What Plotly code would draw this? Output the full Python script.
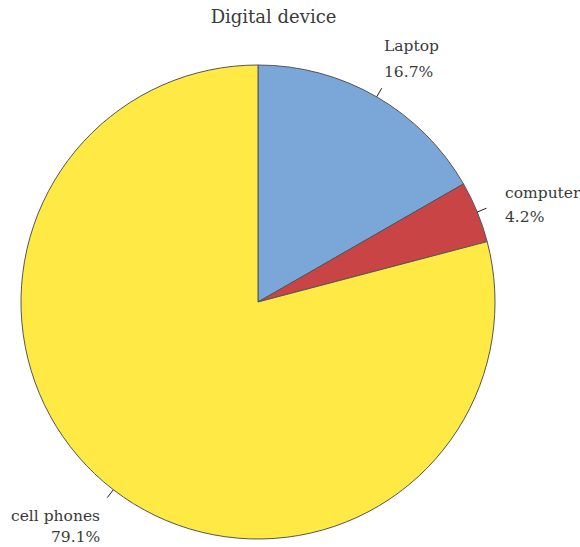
import math
import plotly.graph_objects as go

labels = ["Laptop", "computer", "cell phones"]
values = [16.7, 4.2, 79.1]
colors = ["#7BA6D8", "#C94545", "#FFE945"]

FONT = "DejaVu Serif"
TXT = "#3a3a3a"
LBL_SIZE = 15.5

fig = go.Figure(go.Pie(
    labels=labels, values=values, sort=False, direction="clockwise", rotation=0,
    marker=dict(colors=colors, line=dict(color="#555555", width=1)),
    textinfo="none", hoverinfo="label+percent",
    showlegend=False,
    domain=dict(x=[0, 1], y=[0, 1]),
))

# plot area is square: 474 x 474 px, radius = 0.5 paper units
R_PX = 237.0
lead = 10.0 / R_PX * 0.5
total = sum(values)
cum = 0.0
for lab, v in zip(labels, values):
    mid = (cum + v / 2) / total * 2 * math.pi
    cum += v
    s, c = math.sin(mid), math.cos(mid)
    x0, y0 = 0.5 + 0.5 * s, 0.5 + 0.5 * c
    x1, y1 = 0.5 + (0.5 + lead) * s, 0.5 + (0.5 + lead) * c
    fig.add_shape(type="line", xref="paper", yref="paper", x0=x0, y0=y0, x1=x1, y1=y1,
                  line=dict(color="#222222", width=1))
    xa = "left" if s >= 0 else "right"
    if c > 0.5:
        xs, ys_name, ys_pct = 0, 42, 16
    elif c < -0.5:
        xs, ys_name, ys_pct = -5, -18.5, -39.5
    else:
        xs, ys_name, ys_pct = 17, 15, -9
    for txt, ys in ((lab, ys_name), (f"{v:.1f}%", ys_pct)):
        fig.add_annotation(
            xref="paper", yref="paper", x=x1, y=y1, xanchor=xa, yanchor="middle",
            xshift=xs, yshift=ys, align=xa, showarrow=False, text=txt,
            font=dict(family=FONT, size=LBL_SIZE, color=TXT),
        )

fig.update_layout(
    width=580, height=547,
    margin=dict(l=21, r=85, t=65, b=8),
    paper_bgcolor="white", plot_bgcolor="white",
    title=dict(text="Digital device", x=273.5 / 580, xanchor="center", xref="container",
               y=1 - 10 / 547, yanchor="top",
               font=dict(family=FONT, size=18, color=TXT)),
)
fig.write_html("out.html")
